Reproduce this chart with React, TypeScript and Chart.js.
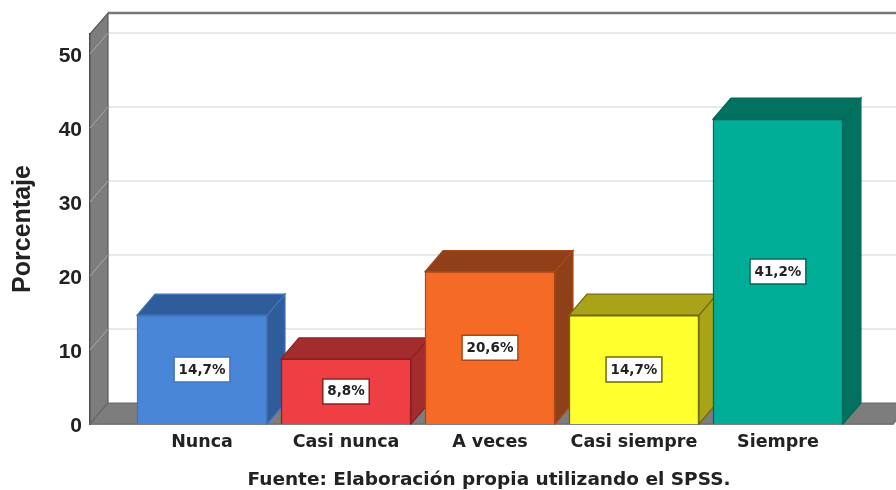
import { useEffect, useRef } from "react";
import { Chart, registerables } from "chart.js";

Chart.register(...registerables);

const categories = ["Nunca", "Casi nunca", "A veces", "Casi siempre", "Siempre"];
const percentages = [14.7, 8.8, 20.6, 14.7, 41.2];
const frontColors = ["#4a86d8", "#ee3f45", "#f56a24", "#ffff2e", "#00ae97"];
const sideColors = ["#2f5c9a", "#a32d2d", "#8f4019", "#a8a318", "#00725f"];
const edgeColors = ["#3f74bd", "#8c2020", "#a8481a", "#6f6a00", "#00685a"];
const sourceNote = "Fuente: Elaboración propia utilizando el SPSS.";
const yAxisTitle = "Porcentaje";

const DEPTH_X = 18;
const DEPTH_Y = 21;
const WALL = "#7d7d7d";
const GRID = "#e2e2e2";
const FONT = "'Liberation Sans', Arial, sans-serif";
const WIDE_FONT = "'DejaVu Sans', sans-serif";

function poly(ctx: CanvasRenderingContext2D, pts: number[][], fill: string, stroke?: string) {
  ctx.beginPath();
  pts.forEach(([x, y], i) => (i ? ctx.lineTo(x, y) : ctx.moveTo(x, y)));
  ctx.closePath();
  ctx.fillStyle = fill;
  ctx.fill();
  if (stroke) {
    ctx.strokeStyle = stroke;
    ctx.lineWidth = 1.2;
    ctx.stroke();
  }
}

// Back wall, floor and the depth faces of each bar, painted under the bar fronts.
const depthPlugin = {
  id: "depth",
  beforeDatasetsDraw(chart: any) {
    const { ctx, chartArea: a, scales, width } = chart;
    const y = scales.y;
    ctx.save();

    y.ticks.forEach((t: any) => {
      const py = y.getPixelForValue(t.value);
      if (t.value === 0) return;
      ctx.strokeStyle = GRID;
      ctx.lineWidth = 1.5;
      ctx.beginPath();
      ctx.moveTo(a.left + DEPTH_X, py - DEPTH_Y);
      ctx.lineTo(width, py - DEPTH_Y);
      ctx.stroke();
    });

    // top edge of the back wall
    ctx.strokeStyle = "#777777";
    ctx.lineWidth = 2.5;
    ctx.beginPath();
    ctx.moveTo(a.left + DEPTH_X, a.top - DEPTH_Y);
    ctx.lineTo(width, a.top - DEPTH_Y);
    ctx.stroke();

    // left wall
    poly(
      ctx,
      [
        [a.left, a.top],
        [a.left + DEPTH_X, a.top - DEPTH_Y],
        [a.left + DEPTH_X, a.bottom - DEPTH_Y],
        [a.left, a.bottom],
      ],
      WALL,
      "#5a5a5a"
    );
    // floor
    poly(
      ctx,
      [
        [a.left, a.bottom],
        [a.left + DEPTH_X, a.bottom - DEPTH_Y],
        [a.right + DEPTH_X, a.bottom - DEPTH_Y],
        [a.right, a.bottom],
      ],
      WALL,
      "#6a6a6a"
    );

    // grid continues as pale diagonals across the left wall
    y.ticks.forEach((t: any) => {
      if (t.value === 0) return;
      const py = y.getPixelForValue(t.value);
      ctx.strokeStyle = "#a8a8a8";
      ctx.lineWidth = 1;
      ctx.beginPath();
      ctx.moveTo(a.left, py);
      ctx.lineTo(a.left + DEPTH_X, py - DEPTH_Y);
      ctx.stroke();
    });

    const bars = chart.getDatasetMeta(0).data;
    bars.forEach((bar: any, i: number) => {
      const half = bar.width / 2;
      const l = bar.x - half;
      const r = bar.x + half;
      const top = bar.y;
      const base = bar.base;
      poly(
        ctx,
        [
          [r, top],
          [r + DEPTH_X, top - DEPTH_Y],
          [r + DEPTH_X, base - DEPTH_Y],
          [r, base],
        ],
        sideColors[i],
        edgeColors[i]
      );
      poly(
        ctx,
        [
          [l, top],
          [l + DEPTH_X, top - DEPTH_Y],
          [r + DEPTH_X, top - DEPTH_Y],
          [r, top],
        ],
        sideColors[i],
        edgeColors[i]
      );
    });
    ctx.restore();
  },
  // Percentage tags in the middle of each bar, and the source line under the chart.
  afterDatasetsDraw(chart: any) {
    const { ctx } = chart;
    const bars = chart.getDatasetMeta(0).data;
    ctx.save();
    ctx.textAlign = "center";
    ctx.textBaseline = "middle";
    ctx.font = `bold 13.5px ${WIDE_FONT}`;
    bars.forEach((bar: any, i: number) => {
      const text = percentages[i].toFixed(1).replace(".", ",") + "%";
      const cy = (bar.y + bar.base) / 2;
      const w = ctx.measureText(text).width + 9;
      const h = 25;
      ctx.fillStyle = "#ffffff";
      ctx.strokeStyle = edgeColors[i];
      ctx.lineWidth = 1.5;
      ctx.beginPath();
      ctx.rect(bar.x - w / 2, cy - h / 2, w, h);
      ctx.fill();
      ctx.stroke();
      ctx.fillStyle = "#222222";
      ctx.fillText(text, bar.x, cy + 0.5);
    });
    ctx.font = `bold 18.5px ${WIDE_FONT}`;
    ctx.fillStyle = "#222222";
    ctx.fillText(sourceNote, 489, 480);
    ctx.restore();
  },
};

export default function App() {
  const ref = useRef<HTMLCanvasElement>(null);

  useEffect(() => {
    const chart = new Chart(ref.current!, {
      type: "bar",
      data: {
        datasets: [
          {
            data: percentages.map((v, i) => ({ x: i, y: v })),
            backgroundColor: frontColors,
            borderColor: edgeColors,
            borderWidth: 1.5,
            barThickness: 130,
          },
        ],
      },
      plugins: [depthPlugin],
      options: {
        animation: false,
        responsive: false,
        layout: { padding: { top: 34, right: 3, left: 0, bottom: 0 } },
        plugins: { legend: { display: false }, tooltip: { enabled: false }, title: { display: false } },
        scales: {
          x: {
            type: "linear",
            min: -0.778,
            max: 4.799,
            offset: false,
            afterBuildTicks: (axis: any) => {
              axis.ticks = categories.map((_, i) => ({ value: i }));
            },
            afterFit: (axis: any) => {
              axis.height = 66;
            },
            grid: { display: false, drawTicks: false },
            border: { display: true, color: "#3a3a3a", width: 1.5 },
            ticks: {
              padding: 8,
              autoSkip: false,
              maxRotation: 0,
              color: "#222222",
              font: { family: WIDE_FONT, size: 17.5, weight: "bold" },
              callback: (v: any) => categories[v] ?? "",
            },
          },
          y: {
            min: 0,
            max: 52.7,
            afterBuildTicks: (axis: any) => {
              axis.ticks = [0, 10, 20, 30, 40, 50].map((value) => ({ value }));
            },
            afterFit: (axis: any) => {
              axis.width = 90;
            },
            grid: { display: false, drawTicks: false },
            border: { display: true, color: "#3a3a3a", width: 1.5 },
            title: {
              display: true,
              text: yAxisTitle,
              color: "#222222",
              font: { family: FONT, size: 25, weight: "bold" },
              padding: { top: 8, bottom: 0 },
            },
            ticks: {
              padding: 8,
              labelOffset: 2,
              color: "#222222",
              font: { family: FONT, size: 21, weight: "bold" },
            },
          },
        },
      },
    } as any);
    return () => chart.destroy();
  }, []);

  return (
    <div style={{ position: "absolute", left: 0, top: 0, width: 896, height: 490, background: "#fff" }}>
      <canvas ref={ref} width={896} height={490} style={{ display: "block" }} />
    </div>
  );
}
